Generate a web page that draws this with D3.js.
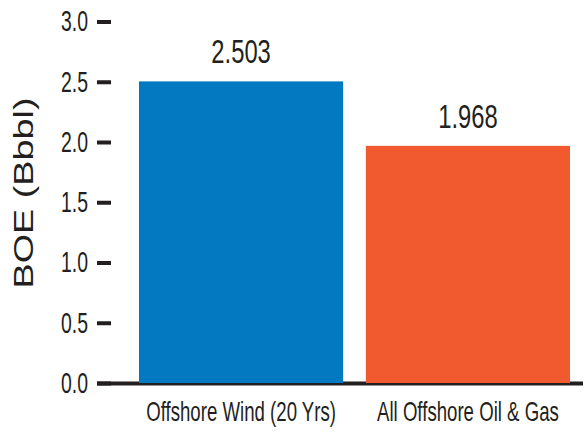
<!DOCTYPE html>
<html>
<head>
<meta charset="utf-8">
<script src="https://cdn.jsdelivr.net/npm/d3@7"></script>
<style>
  html, body { margin: 0; padding: 0; background: #ffffff; }
  svg { display: block; }
  text { font-family: "Liberation Sans", Arial, Helvetica, sans-serif; fill: #231f20; }
</style>
</head>
<body>
<svg id="chart" width="586" height="433"></svg>
<script>
// Energy output, billions of barrels of oil equivalent
const categories = ["Offshore Wind (20 Yrs)", "All Offshore Oil & Gas"];
const values = [2.503, 1.968];
const valueLabels = ["2.503", "1.968"];
const barColors = ["#0279c1", "#f15a2f"];
const yTicks = [0, 0.5, 1, 1.5, 2, 2.5, 3];
const yTickLabels = ["0.0", "0.5", "1.0", "1.5", "2.0", "2.5", "3.0"];
const yTitle = "BOE (Bbbl)";

const ink = "#231f20";

const svg = d3.select("#chart");

const x = d3.scaleBand()
  .domain(categories)
  .range([139, 570])
  .paddingInner(0.1)
  .paddingOuter(0);

const y = d3.scaleLinear()
  .domain([0, 3])
  .range([383, 21.5]);

// Y axis: short heavy ticks, no domain line
const yAxis = svg.append("g")
  .attr("transform", "translate(111,0)")
  .call(d3.axisLeft(y)
    .tickValues(yTicks)
    .tickFormat((d, i) => yTickLabels[i])
    .tickSize(14)
    .tickPadding(9));
yAxis.select(".domain").remove();
yAxis.selectAll(".tick line")
  .attr("stroke", ink)
  .attr("stroke-width", 4);
yAxis.selectAll(".tick text")
  .attr("x", 0)
  .attr("transform", "translate(-23,0) scale(0.67,1)")
  .style("font-size", "29px")
  .attr("fill", ink);

// Baseline
svg.append("line")
  .attr("x1", 97)
  .attr("x2", 583)
  .attr("y1", y(0) + 0.5)
  .attr("y2", y(0) + 0.5)
  .attr("stroke", ink)
  .attr("stroke-width", 4);

// Bars
svg.append("g")
  .selectAll("rect")
  .data(values)
  .join("rect")
  .attr("x", (d, i) => x(categories[i]))
  .attr("width", x.bandwidth())
  .attr("y", d => y(d))
  .attr("height", d => y(0) - y(d))
  .attr("fill", (d, i) => barColors[i]);

// Value labels
svg.append("g")
  .selectAll("text")
  .data(values)
  .join("text")
  .attr("text-anchor", "middle")
  .attr("transform", (d, i) =>
    `translate(${x(categories[i]) + x.bandwidth() / 2},${y(d) - 18}) scale(0.7,1)`)
  .style("font-size", "34px")
  .text((d, i) => valueLabels[i]);

// Category axis
const xAxis = svg.append("g")
  .attr("transform", `translate(0,${y(0)})`)
  .call(d3.axisBottom(x).tickSize(0).tickPadding(0));
xAxis.select(".domain").remove();
xAxis.selectAll(".tick text")
  .attr("y", 38)
  .attr("dy", 0)
  .attr("transform", "scale(0.69,1)")
  .style("font-size", "27px")
  .attr("fill", ink);
// keep labels centred on bands after horizontal condensing
xAxis.selectAll(".tick").each(function(d) {
  const cx = x(d) + x.bandwidth() / 2;
  d3.select(this).attr("transform", `translate(${cx},0)`);
});

// Y axis title
svg.append("text")
  .attr("text-anchor", "middle")
  .attr("transform", "translate(33,193) rotate(-90) scale(1.4,1)")
  .style("font-size", "27px")
  .text(yTitle);
</script>
</body>
</html>
